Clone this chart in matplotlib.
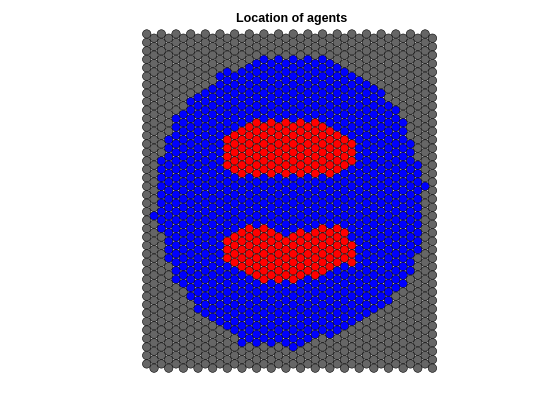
import numpy as np
import matplotlib
matplotlib.use("Agg")
import matplotlib.pyplot as plt

n_cols = 40
n_rows = 40

# blue block per column, rows counted from the top (None = column has no blue)
blue_top = [None, 21, 15, 12, 10, 9, 8, 7, 7, 6, 5, 4, 5, 4, 4, 3, 3, 3, 3, 3,
            3, 3, 3, 3, 3, 3, 4, 4, 5, 5, 6, 6, 7, 8, 9, 10, 13, 15, 18, None]
blue_bot = [None, 21, 23, 26, 29, 29, 31, 32, 33, 33, 34, 34, 35, 36, 36, 36, 36, 36, 36, 36,
            37, 36, 36, 35, 35, 35, 35, 34, 34, 33, 33, 32, 32, 31, 30, 29, 28, 25, 18, None]

# the two red patches (columns 11..28)
red_cols = list(range(11, 29))
red_upper_top = [12, 12, 11, 11, 10, 11, 10, 11, 10, 11, 10, 11, 10, 11, 11, 12, 12, 13]
red_upper_bot = [15, 16, 16, 16, 16, 16, 16, 16, 16, 16, 16, 16, 16, 16, 16, 16, 15, 15]
red_lower_top = [24, 24, 23, 23, 23, 23, 23, 24, 24, 24, 23, 24, 23, 23, 23, 23, 23, 25]
red_lower_bot = [26, 27, 27, 28, 28, 29, 28, 29, 28, 29, 28, 28, 28, 28, 27, 27, 26, 27]

state_colors = ["#666666", "#0000ff", "#ff0000"]

# build the state of every agent
state = np.zeros((n_cols, n_rows), dtype=int)
for i in range(n_cols):
    if blue_top[i] is not None:
        state[i, blue_top[i]:blue_bot[i] + 1] = 1
for k, i in enumerate(red_cols):
    state[i, red_upper_top[k]:red_upper_bot[k] + 1] = 2
    state[i, red_lower_top[k]:red_lower_bot[k] + 1] = 2

# hex layout: columns sqrt(3)/2 apart, odd columns shifted down half a row
xs, ys, cs = [], [], []
for i in range(n_cols):
    for r in range(n_rows):
        xs.append(i * np.sqrt(3) / 2)
        ys.append(-(r + 0.5 * (i % 2)))
        cs.append(state_colors[state[i, r]])

fig = plt.figure(figsize=(5.6, 4.2), dpi=100)
ax = fig.add_axes([0.2529, 0.1114, 0.5284, 0.8198])
ax.scatter(xs, ys, s=37, c=cs, edgecolors="black", linewidths=0.4)

ax.set_xlim(-0.6, 39 * np.sqrt(3) / 2 + 0.6)
ax.set_ylim(-40.1, 0.6)
ax.set_aspect("equal")
ax.axis("off")

fig.text(0.52, 0.955, "Location of agents", ha="center", va="center",
         fontsize=9, fontweight="bold", family="Liberation Sans")

fig.savefig("out.png", dpi=100)
